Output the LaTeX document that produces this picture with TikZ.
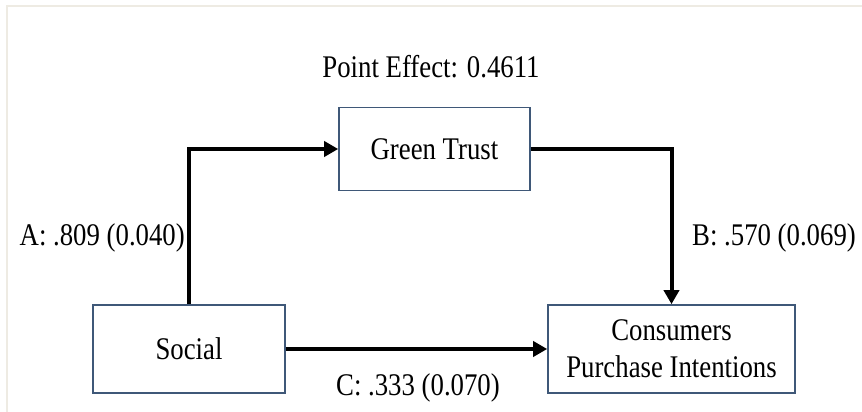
\documentclass[tikz,border=0pt]{standalone}
\usepackage{fontspec}
\setmainfont{Liberation Serif}[FakeStretch=0.85]
\usetikzlibrary{arrows.meta}
\definecolor{boxline}{HTML}{3F5878}
\definecolor{frame}{HTML}{EEEBE3}
\tikzset{
  varbox/.style={draw=boxline, line width=1.6pt, fill=white, align=center, inner sep=0pt,
    font=\fontsize{31.5}{37}\selectfont},
  lbl/.style={inner sep=0pt, font=\fontsize{31.5}{37}\selectfont},
  conn/.style={line width=4pt, -{Triangle[length=14pt,width=15pt]}}
}
\begin{document}
\begin{tikzpicture}[x=1pt,y=-1pt]
\useasboundingbox (0,0) rectangle (862,412);
\fill[white] (0,0) rectangle (862,412);
\draw[frame, line width=2pt] (7,412) -- (7,6) -- (862,6);
\node[varbox, minimum width=191pt, minimum height=83pt] (gt) at (434.5,149) {Green Trust};
\node[varbox, minimum width=192pt, minimum height=88pt] (soc) at (189,349) {Social};
\node[varbox, minimum width=247pt, minimum height=88pt] (cpi) at (671.5,349) {Consumers\\Purchase Intentions};
\node[lbl] (pe) at (431,67) {Point Effect: 0.4611};
\node[lbl, anchor=east] (la) at (185,238) {A: .809 (0.040)};
\node[lbl, anchor=west] (lb) at (692,238) {B: .570 (0.069)};
\node[lbl] (lc) at (418,388) {C: .333 (0.070)};
\draw[conn] (soc.north) |- (gt.west);
\draw[conn] (gt.east) -| (cpi.north);
\draw[conn] (soc.east) -- (cpi.west);
\end{tikzpicture}
\end{document}
